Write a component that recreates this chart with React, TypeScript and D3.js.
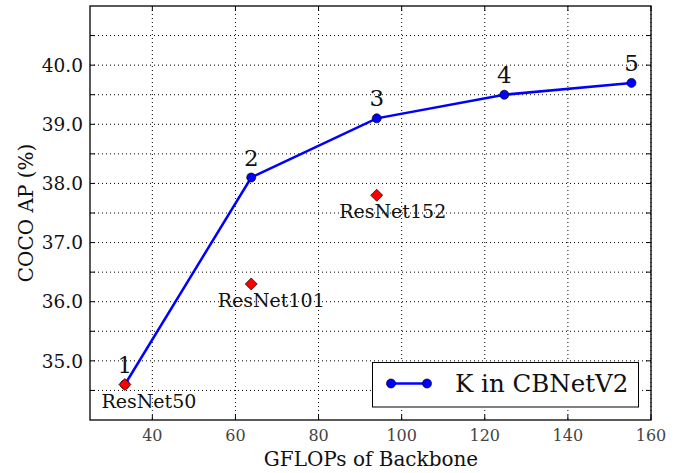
import React from "react";
import * as d3 from "d3";

const kLabels = ["1", "2", "3", "4", "5"];
const kGflops = [33.4, 63.8, 94.0, 124.7, 155.3];
const kAP = [34.6, 38.1, 39.1, 39.5, 39.7];

const resNames = ["ResNet50", "ResNet101", "ResNet152"];
const resGflops = [33.4, 63.8, 94.0];
const resAP = [34.6, 36.3, 37.8];

const xTicks = [40, 60, 80, 100, 120, 140, 160];
const yLabelTicks = [35, 36, 37, 38, 39, 40];
const yGridTicks = [34.5, 35, 35.5, 36, 36.5, 37, 37.5, 38, 38.5, 39, 39.5, 40, 40.5];

const W = 689, H = 473;
const L = 90, R = 651, T = 6, B = 420;
const FONT = "'DejaVu Serif', serif";

export default function App() {
  const x = d3.scaleLinear().domain([25, 160]).range([L, R]);
  const y = d3.scaleLinear().domain([34, 41]).range([B, T]);
  const line = d3.line<number>().x((_, i) => x(kGflops[i])).y((_, i) => y(kAP[i]));
  const resDx = [24, 20, 16];
  const diamond = (cx: number, cy: number, s: number) =>
    `M${cx},${cy - s}L${cx + s},${cy}L${cx},${cy + s}L${cx - s},${cy}Z`;

  return (
    <svg width={W} height={H} style={{ position: "absolute", left: 0, top: 0, background: "#fff" }} fontFamily={FONT}>
      <rect x={0} y={0} width={W} height={H} fill="#fff" />
      {/* grid */}
      {xTicks.map((t) => (
        <line key={"gx" + t} x1={x(t)} x2={x(t)} y1={T} y2={B} stroke="#000" strokeWidth={1} strokeDasharray="1,3" />
      ))}
      {yGridTicks.map((t) => (
        <line key={"gy" + t} x1={L} x2={R} y1={y(t)} y2={y(t)} stroke="#000" strokeWidth={1} strokeDasharray="1,3" />
      ))}
      {/* ticks inward */}
      {xTicks.map((t) => (
        <g key={"tx" + t}>
          <line x1={x(t)} x2={x(t)} y1={B} y2={B - 5} stroke="#000" />
          <line x1={x(t)} x2={x(t)} y1={T} y2={T + 5} stroke="#000" />
          <text x={x(t)} y={441} textAnchor="middle" fontSize={16} fill="#444">{t}</text>
        </g>
      ))}
      {yGridTicks.map((t) => (
        <g key={"ty" + t}>
          <line x1={L} x2={L + 5} y1={y(t)} y2={y(t)} stroke="#000" />
          <line x1={R} x2={R - 5} y1={y(t)} y2={y(t)} stroke="#000" />
        </g>
      ))}
      {yLabelTicks.map((t) => (
        <text key={"ly" + t} x={83} y={y(t)} dy="0.36em" textAnchor="end" fontSize={18.5} fill="#111">
          {t.toFixed(1)}
        </text>
      ))}
      {/* frame */}
      <rect x={L} y={T} width={R - L} height={B - T} fill="none" stroke="#000" strokeWidth={1.3} />
      {/* line */}
      <path d={line(kAP) || ""} fill="none" stroke="#0000ff" strokeWidth={2.5} />
      {kAP.map((v, i) => (
        <circle key={"c" + i} cx={x(kGflops[i])} cy={y(v)} r={4.5} fill="#0000ff" stroke="#000" strokeWidth={0.7} />
      ))}
      {/* resnet */}
      {resAP.map((v, i) => (
        <g key={"r" + i}>
          <path d={diamond(x(resGflops[i]), y(v), 6)} fill="#ff0000" stroke="#000" strokeWidth={0.7} />
          <text x={x(resGflops[i]) + resDx[i]} y={y(v) + 23} textAnchor="middle" fontSize={19} fill="#111">
            {resNames[i]}
          </text>
        </g>
      ))}
      {kLabels.map((lab, i) => (
        <text key={"k" + i} x={x(kGflops[i])} y={y(kAP[i]) - 12} textAnchor="middle" fontSize={23} fill="#111">
          {lab}
        </text>
      ))}
      {/* legend */}
      <rect x={372.5} y={362.5} width={266} height={44.5} fill="#fff" stroke="#000" strokeWidth={1} />
      <line x1={391} x2={427} y1={383.5} y2={383.5} stroke="#0000ff" strokeWidth={2.5} />
      <circle cx={391} cy={383.5} r={4.5} fill="#0000ff" stroke="#000" strokeWidth={0.7} />
      <circle cx={427} cy={383.5} r={4.5} fill="#0000ff" stroke="#000" strokeWidth={0.7} />
      <text x={455} y={392} fontSize={24.5} fill="#111">K in CBNetV2</text>
      {/* axis labels */}
      <text x={371} y={466} textAnchor="middle" fontSize={20} fill="#111">GFLOPs of Backbone</text>
      <text transform={`translate(33,${(T + B) / 2}) rotate(-90)`} textAnchor="middle" fontSize={20} fill="#111">
        COCO AP (%)
      </text>
    </svg>
  );
}
